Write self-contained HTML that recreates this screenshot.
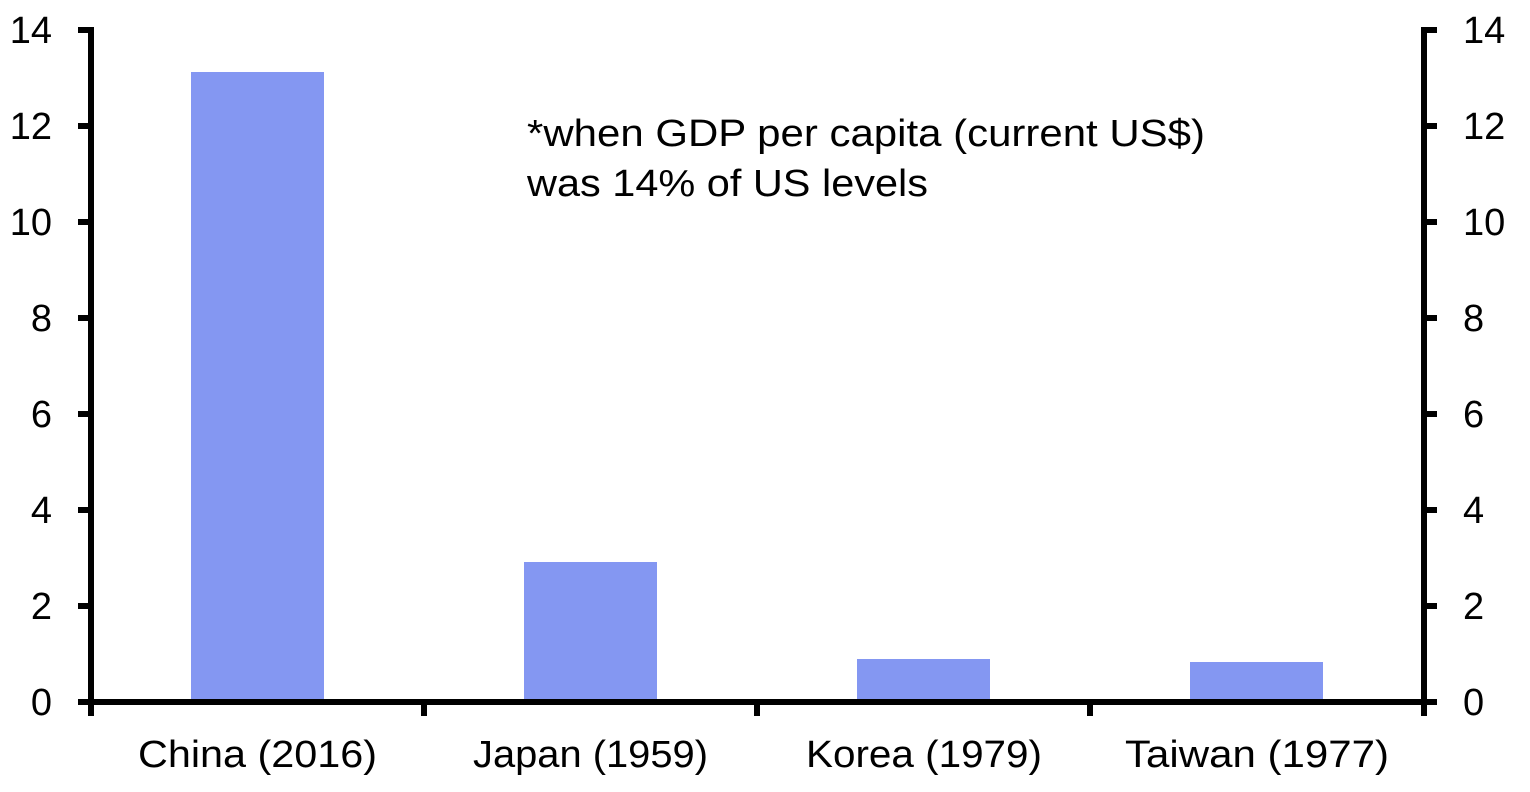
<!DOCTYPE html>
<html><head><style>
html,body{margin:0;padding:0;background:#fff;}
svg{display:block;}
text{font-family:"Liberation Sans",sans-serif;fill:#000;}
</style></head><body>
<svg width="1530" height="792" viewBox="0 0 1530 792">
<g fill="#8497f2">
<rect x="191" y="72" width="133" height="630"/>
<rect x="524" y="562" width="133" height="140"/>
<rect x="857" y="659" width="133" height="43"/>
<rect x="1190" y="662" width="133" height="40"/>
</g>
<g stroke="#000" stroke-width="6" fill="none">
<line x1="91" y1="27" x2="91" y2="705"/>
<line x1="1424" y1="27" x2="1424" y2="705"/>
<line x1="88" y1="702" x2="1427" y2="702"/>
<path d="M78 30H91M78 126H91M78 222H91M78 318H91M78 414H91M78 510H91M78 606H91M78 702H91"/>
<path d="M1424 30H1437M1424 126H1437M1424 222H1437M1424 318H1437M1424 414H1437M1424 510H1437M1424 606H1437M1424 702H1437"/>
<path d="M91 702V716M424 702V716M757 702V716M1090 702V716M1424 702V716"/>
</g>
<g font-size="38" text-anchor="end">
<text x="52" y="43">14</text><text x="52" y="139">12</text><text x="52" y="235">10</text>
<text x="52" y="331">8</text><text x="52" y="427">6</text><text x="52" y="523">4</text>
<text x="52" y="619">2</text><text x="52" y="715">0</text>
</g>
<g font-size="38" text-anchor="start">
<text x="1463" y="43">14</text><text x="1463" y="139">12</text><text x="1463" y="235">10</text>
<text x="1463" y="331">8</text><text x="1463" y="427">6</text><text x="1463" y="523">4</text>
<text x="1463" y="619">2</text><text x="1463" y="715">0</text>
</g>
<g font-size="38">
<text x="138" y="767" textLength="239" lengthAdjust="spacingAndGlyphs">China (2016)</text>
<text x="473" y="767" textLength="235" lengthAdjust="spacingAndGlyphs">Japan (1959)</text>
<text x="806" y="767" textLength="236" lengthAdjust="spacingAndGlyphs">Korea (1979)</text>
<text x="1125" y="767" textLength="264" lengthAdjust="spacingAndGlyphs">Taiwan (1977)</text>
</g>
<text x="527" y="146" font-size="38" textLength="678" lengthAdjust="spacingAndGlyphs">*when GDP per capita (current US$)</text>
<text x="527" y="196" font-size="38" textLength="401" lengthAdjust="spacingAndGlyphs">was 14% of US levels</text>
</svg>
</body></html>
